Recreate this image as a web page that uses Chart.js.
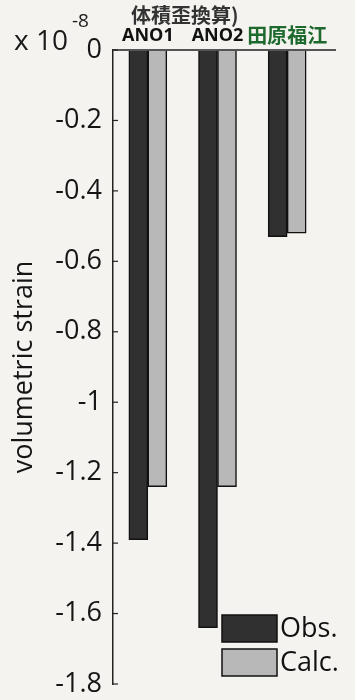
<!DOCTYPE html>
<html>
<head>
<meta charset="utf-8">
<script src="https://cdn.jsdelivr.net/npm/chart.js@4.4.1/dist/chart.umd.min.js"></script>
<style>
  html, body { margin: 0; padding: 0; background: #f4f3ef; }
  #wrap { position: relative; width: 355px; height: 700px; }
</style>
</head>
<body>
<div id="wrap"><canvas id="grafico" width="355" height="700"></canvas></div>
<script>
// dados (unidade: 1e-8)
const categorias = ['ANO1', 'ANO2', '田原福江'];
const observado = [-1.39, -1.64, -0.53];
const calculado = [-1.24, -1.24, -0.52];
const rotulosSeries = ['Obs.', 'Calc.'];
const yTicks = [0, -0.2, -0.4, -0.6, -0.8, -1, -1.2, -1.4, -1.6, -1.8];
const yTickLabels = ['0', '-0.2', '-0.4', '-0.6', '-0.8', '-1', '-1.2', '-1.4', '-1.6', '-1.8'];

const fonteLatina = '"Open Sans", "DejaVu Sans", sans-serif';
const fonteCJK = '"Noto Sans CJK JP", sans-serif';
const verde = '#1e6a2e';

// textos extras, eixo de cima e legenda dentro do gráfico
const extras = {
    id: 'extras',
    afterDraw(chart) {
        const ctx = chart.ctx;
        const area = chart.chartArea;
        const y = chart.scales.y;
        ctx.save();

        // linha do zero prolongada à direita
        ctx.strokeStyle = '#555';
        ctx.lineWidth = 2;
        ctx.beginPath();
        ctx.moveTo(area.left, area.top);
        ctx.lineTo(area.right + 14, area.top);
        ctx.stroke();

        // marcas para dentro no eixo y
        ctx.strokeStyle = '#222';
        ctx.lineWidth = 1.2;
        y.ticks.forEach(t => {
            const py = y.getPixelForValue(t.value);
            ctx.beginPath();
            ctx.moveTo(area.left, py);
            ctx.lineTo(area.left + 5, py);
            ctx.stroke();
        });

        // x 10^-8
        ctx.fillStyle = '#1a1a1a';
        ctx.textBaseline = 'alphabetic';
        ctx.textAlign = 'left';
        ctx.font = '28px ' + fonteLatina;
        ctx.fillText('x 10', 14, 50);
        ctx.font = '19px ' + fonteLatina;
        ctx.fillText('-8', 72, 27);

        // título cortado
        ctx.font = 'bold 20px ' + fonteCJK;
        ctx.fillStyle = '#333';
        ctx.fillText('体積歪換算)', 131, 23);

        // legenda
        const ds = chart.data.datasets;
        const lx = 222, ly = 615;
        ds.forEach((d, i) => {
            const by = ly + i * 34;
            ctx.fillStyle = d.backgroundColor;
            ctx.fillRect(lx, by, 55, 27);
            ctx.strokeStyle = '#111';
            ctx.lineWidth = 1.5;
            ctx.strokeRect(lx, by, 55, 27);
            ctx.fillStyle = '#111';
            ctx.font = '27px ' + fonteLatina;
            ctx.textBaseline = 'middle';
            ctx.fillText(d.label, lx + 58, by + 14);
        });
        ctx.restore();
    }
};

const ctx = document.getElementById('grafico').getContext('2d');
new Chart(ctx, {
    type: 'bar',
    data: {
        labels: categorias,
        datasets: [{
            label: rotulosSeries[0],
            data: observado,
            backgroundColor: '#303030',
            borderColor: '#111',
            borderWidth: 1.5,
            barThickness: 19
        }, {
            label: rotulosSeries[1],
            data: calculado,
            backgroundColor: '#b8b8b8',
            borderColor: '#111',
            borderWidth: 1.5,
            barThickness: 19
        }]
    },
    options: {
        responsive: false,
        animation: false,
        layout: { padding: { left: 0, right: 33, top: 0, bottom: 16 } },
        plugins: {
            legend: { display: false },
            tooltip: { enabled: false }
        },
        scales: {
            x: {
                position: 'top',
                grid: { drawOnChartArea: false, drawTicks: false },
                border: { display: false },
                ticks: {
                    padding: 3,
                    autoSkip: false,
                    maxRotation: 0,
                    minRotation: 0,
                    color: (c) => c.index === 2 ? verde : '#111',
                    font: (c) => c.index === 2
                        ? { family: fonteCJK, size: 20, weight: 'bold' }
                        : { family: fonteLatina, size: 18, weight: 'bold' }
                },
                afterFit: (s) => { s.height = 50; s.paddingLeft = 0; s.paddingRight = 0; }
            },
            y: {
                min: -1.8,
                max: 0,
                grid: { drawOnChartArea: false, drawTicks: false },
                border: { display: true, color: '#222', width: 1.5 },
                afterBuildTicks: (s) => { s.ticks = yTicks.map(v => ({ value: v })); },
                ticks: {
                    padding: 11,
                    color: '#151515',
                    font: { family: fonteLatina, size: 27 },
                    callback: (v, i) => yTickLabels[i]
                },
                title: {
                    display: true,
                    text: 'volumetric strain',
                    color: '#151515',
                    font: { family: fonteLatina, size: 27 },
                    padding: { top: 8, bottom: 0 }
                },
                afterFit: (s) => { s.width = 113; s.paddingTop = 0; s.paddingBottom = 0; }
            }
        }
    },
    plugins: [extras]
});
</script>
</body>
</html>
